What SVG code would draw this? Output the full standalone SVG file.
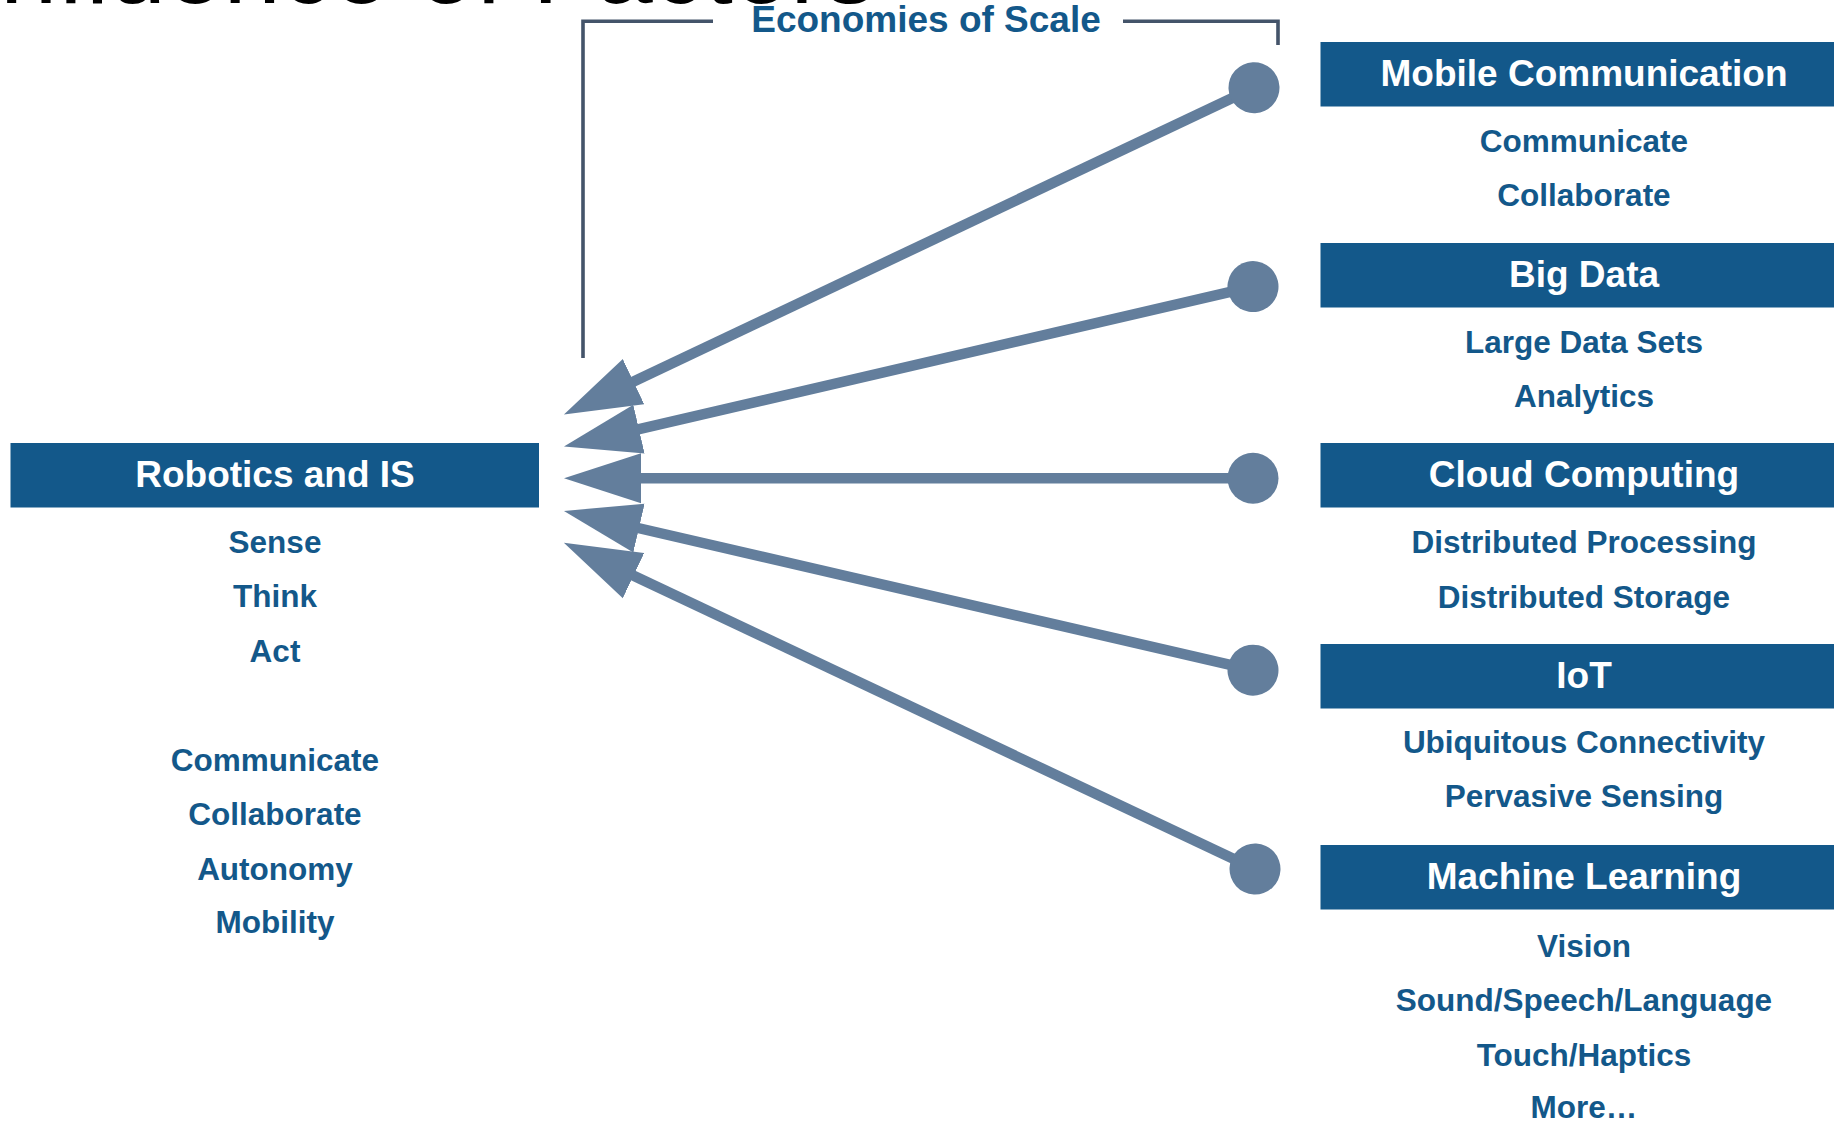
<svg xmlns="http://www.w3.org/2000/svg" width="1834" height="1123" viewBox="0 0 1834 1123">
  <style>
    .box { fill: #13588a; }
    .title { font-family: "Liberation Sans", Arial, sans-serif; font-weight: bold; font-size: 37px; fill: #ffffff; text-anchor: middle; }
    .sub { font-family: "Liberation Sans", Arial, sans-serif; font-weight: bold; font-size: 31.5px; fill: #13588a; text-anchor: middle; }
    .eco { font-family: "Liberation Sans", Arial, sans-serif; font-weight: bold; font-size: 37px; fill: #13588a; text-anchor: middle; }
    .bracket { fill: none; stroke: #44546a; stroke-width: 3.6; }
    .conn { stroke: #637e9c; stroke-width: 10.5; fill: none; marker-start: url(#dot); marker-end: url(#head); }
  </style>
  <defs>
    <marker id="head" viewBox="0 -26 79 52" refX="1" refY="0" markerWidth="79" markerHeight="52" markerUnits="userSpaceOnUse" orient="auto">
      <path d="M0,-25 L77,0 L0,25 Z" fill="#637e9c"/>
    </marker>
    <marker id="dot" viewBox="-27 -27 54 54" refX="0" refY="0" markerWidth="54" markerHeight="54" markerUnits="userSpaceOnUse" orient="auto">
      <circle cx="0" cy="0" r="25.5" fill="#637e9c"/>
    </marker>
  </defs>
  <rect width="1834" height="1123" fill="#ffffff"/>

  <text x="876" y="3" font-family="'Liberation Sans', Arial, sans-serif" font-size="103" fill="#000000" text-anchor="end">Influence of Factors</text>

  <g id="economies-of-scale">
    <path class="bracket" d="M583,358 V21.3 H713"/>
    <path class="bracket" d="M1123,21.3 H1278 V45"/>
    <text class="eco" x="926" y="32">Economies of Scale</text>
  </g>

  <g id="connectors">
    <line class="conn" x1="1254" y1="87.7" x2="632.6" y2="382.0"/>
    <line class="conn" x1="1253" y1="286.6" x2="638.0" y2="429.3"/>
    <line class="conn" x1="1253" y1="478.3" x2="640" y2="478.3"/>
    <line class="conn" x1="1253" y1="670.2" x2="638.0" y2="528.0"/>
    <line class="conn" x1="1255" y1="869" x2="632.6" y2="575.2"/>
  </g>

  <g id="robotics">
    <rect class="box" x="10.5" y="443" width="528.5" height="64.5"/>
    <text class="title" x="275" y="487.2">Robotics and IS</text>
    <text class="sub" x="275" y="553">Sense</text>
    <text class="sub" x="275" y="607">Think</text>
    <text class="sub" x="275" y="662">Act</text>
    <text class="sub" x="275" y="771">Communicate</text>
    <text class="sub" x="275" y="825">Collaborate</text>
    <text class="sub" x="275" y="880">Autonomy</text>
    <text class="sub" x="275" y="933">Mobility</text>
  </g>

  <g id="mobile-communication">
    <rect class="box" x="1320.5" y="42" width="530" height="64.5"/>
    <text class="title" x="1584" y="86.2">Mobile Communication</text>
    <text class="sub" x="1584" y="152">Communicate</text>
    <text class="sub" x="1584" y="206">Collaborate</text>
  </g>

  <g id="big-data">
    <rect class="box" x="1320.5" y="243" width="530" height="64.5"/>
    <text class="title" x="1584" y="287.2">Big Data</text>
    <text class="sub" x="1584" y="353">Large Data Sets</text>
    <text class="sub" x="1584" y="407">Analytics</text>
  </g>

  <g id="cloud-computing">
    <rect class="box" x="1320.5" y="443" width="530" height="64.5"/>
    <text class="title" x="1584" y="487.2">Cloud Computing</text>
    <text class="sub" x="1584" y="553">Distributed Processing</text>
    <text class="sub" x="1584" y="608">Distributed Storage</text>
  </g>

  <g id="iot">
    <rect class="box" x="1320.5" y="644" width="530" height="64.5"/>
    <text class="title" x="1584" y="688.2">IoT</text>
    <text class="sub" x="1584" y="753">Ubiquitous Connectivity</text>
    <text class="sub" x="1584" y="807">Pervasive Sensing</text>
  </g>

  <g id="machine-learning">
    <rect class="box" x="1320.5" y="845" width="530" height="64.5"/>
    <text class="title" x="1584" y="889.2">Machine Learning</text>
    <text class="sub" x="1584" y="957">Vision</text>
    <text class="sub" x="1584" y="1011">Sound/Speech/Language</text>
    <text class="sub" x="1584" y="1066">Touch/Haptics</text>
    <text class="sub" x="1584" y="1118">More…</text>
  </g>
</svg>
